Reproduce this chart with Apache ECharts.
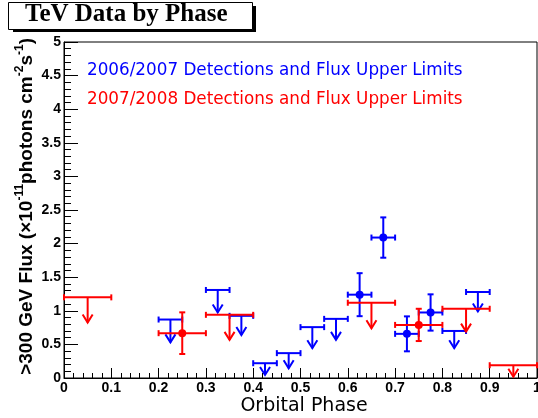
<!DOCTYPE html>
<html><head><meta charset="utf-8">
<script src="https://cdn.jsdelivr.net/npm/echarts@6/dist/echarts.min.js"></script>
<style>html,body{margin:0;padding:0;background:#fff}#c{width:538px;height:418px}</style>
</head><body><div id="c"></div>
<script>
// ---- data ----
const xTickLabels = ['0','0.1','0.2','0.3','0.4','0.5','0.6','0.7','0.8','0.9','1'];
const yTickLabels = ['0','0.5','1','1.5','2','2.5','3','3.5','4','4.5','5'];

// 2006/2007 upper limits (blue)
const blueUlLo  = [0.20, 0.30, 0.35, 0.40, 0.45, 0.50, 0.55, 0.80, 0.85];
const blueUlHi  = [0.25, 0.35, 0.40, 0.45, 0.50, 0.55, 0.60, 0.85, 0.90];
const blueUlVal = [0.87, 1.31, 0.925, 0.22, 0.37, 0.757, 0.88, 0.70, 1.28];
const blueUlArrowX = [0.225, 0.325, 0.375, 0.425, 0.475, 0.525, 0.575, 0.825, 0.875];
const blueUlArrowTip = [0.53, 0.975, 0.64, 0.045, 0.145, 0.443, 0.567, 0.443, 0.99];

// 2007/2008 upper limits (red)
const redUlLo  = [0.0, 0.3, 0.6, 0.8, 0.9];
const redUlHi  = [0.1, 0.4, 0.7, 0.9, 1.0];
const redUlVal = [1.2, 0.94, 1.12, 1.03, 0.19];
const redUlArrowX = [0.05, 0.35, 0.65, 0.85, 0.95];
const redUlArrowTip = [0.825, 0.567, 0.74, 0.69, 0.02];

// 2006/2007 detections (blue)
const blueDetX = [0.625, 0.675, 0.725, 0.775];
const blueDetXErr = [0.025, 0.025, 0.025, 0.025];
const blueDetY = [1.24, 2.09, 0.657, 0.975];
const blueDetYErr = [0.32, 0.30, 0.26, 0.27];

// 2007/2008 detections (red)
const redDetX = [0.25, 0.75];
const redDetXErr = [0.05, 0.05];
const redDetY = [0.667, 0.79];
const redDetYErr = [0.31, 0.24];

const BLUE = '#0000ff', RED = '#ff0000';

function ulData(lo, hi, val, ax, tip) {
  return lo.map((l, i) => [l, hi[i], val[i], ax[i], tip[i]]);
}
function detData(x, xe, y, ye) {
  return x.map((v, i) => [v, xe[i], y[i], ye[i]]);
}

function ulRender(color) {
  return function (params, api) {
    const v = api.value(2), ax = api.value(3);
    const lo = api.coord([api.value(0), v]);
    const hi = api.coord([api.value(1), v]);
    const top = api.coord([ax, v]);
    const tip = api.coord([ax, api.value(4)]);
    const st = { stroke: color, lineWidth: 2, fill: null };
    return { type: 'group', children: [
      { type: 'line', shape: { x1: lo[0], y1: lo[1], x2: hi[0], y2: hi[1] }, style: st },
      { type: 'line', shape: { x1: lo[0], y1: lo[1] - 3, x2: lo[0], y2: lo[1] + 3 }, style: st },
      { type: 'line', shape: { x1: hi[0], y1: hi[1] - 3, x2: hi[0], y2: hi[1] + 3 }, style: st },
      { type: 'line', shape: { x1: top[0], y1: top[1], x2: tip[0], y2: tip[1] }, style: st },
      { type: 'polyline', shape: { points: [[tip[0] - 5, tip[1] - 8], [tip[0], tip[1]], [tip[0] + 5, tip[1] - 8]] }, style: st }
    ]};
  };
}
function detRender(color) {
  return function (params, api) {
    const x = api.value(0), xe = api.value(1), y = api.value(2), ye = api.value(3);
    const c = api.coord([x, y]);
    const l = api.coord([x - xe, y]), r = api.coord([x + xe, y]);
    const t = api.coord([x, y + ye]), b = api.coord([x, y - ye]);
    const st = { stroke: color, lineWidth: 2, fill: null };
    return { type: 'group', children: [
      { type: 'line', shape: { x1: l[0], y1: l[1], x2: r[0], y2: r[1] }, style: st },
      { type: 'line', shape: { x1: l[0], y1: l[1] - 3, x2: l[0], y2: l[1] + 3 }, style: st },
      { type: 'line', shape: { x1: r[0], y1: r[1] - 3, x2: r[0], y2: r[1] + 3 }, style: st },
      { type: 'line', shape: { x1: t[0], y1: t[1], x2: b[0], y2: b[1] }, style: st },
      { type: 'line', shape: { x1: t[0] - 3, y1: t[1], x2: t[0] + 3, y2: t[1] }, style: st },
      { type: 'line', shape: { x1: b[0] - 3, y1: b[1], x2: b[0] + 3, y2: b[1] }, style: st },
      { type: 'circle', shape: { cx: c[0], cy: c[1], r: 4 }, style: { fill: color } }
    ]};
  };
}

const chart = echarts.init(document.getElementById('c'), null, { renderer: 'canvas' });
const tickFont = { color: '#000', fontFamily: 'Liberation Sans, Arial, sans-serif', fontWeight: 'bold', fontSize: 14 };

chart.setOption({
  animation: false,
  backgroundColor: '#fff',
  grid: { left: 64, right: 1, top: 42, bottom: 40, containLabel: false, outerBoundsMode: 'none',
          show: true, borderColor: '#000', borderWidth: 1, backgroundColor: 'transparent' },
  xAxis: {
    type: 'value', min: 0, max: 1, interval: 0.1,
    axisLine: { show: true, lineStyle: { color: '#000', width: 1 } },
    axisTick: { show: true, inside: true, length: 10, lineStyle: { color: '#000' } },
    minorTick: { show: true, splitNumber: 5, length: 5, lineStyle: { color: '#000' } },
    splitLine: { show: false },
    axisLabel: Object.assign({ margin: 3, hideOverlap: false, showMinLabel: true, showMaxLabel: true, formatter: (v) => xTickLabels[Math.round(v * 10)] }, tickFont)
  },
  yAxis: {
    type: 'value', min: 0, max: 5, interval: 0.5,
    axisLine: { show: true, lineStyle: { color: '#000', width: 1 } },
    axisTick: { show: true, inside: true, length: 14, lineStyle: { color: '#000' } },
    minorTick: { show: true, splitNumber: 5, length: 7, lineStyle: { color: '#000' } },
    splitLine: { show: false },
    axisLabel: Object.assign({ margin: 3, showMinLabel: true, showMaxLabel: true, formatter: (v) => yTickLabels[Math.round(v * 2)] }, tickFont)
  },
  series: [
    { type: 'custom', name: 'blueUL', renderItem: ulRender(BLUE), encode: { x: [0, 1], y: 2 },
      data: ulData(blueUlLo, blueUlHi, blueUlVal, blueUlArrowX, blueUlArrowTip), z: 2 },
    { type: 'custom', name: 'blueDet', renderItem: detRender(BLUE), encode: { x: 0, y: 2 },
      data: detData(blueDetX, blueDetXErr, blueDetY, blueDetYErr), z: 2 },
    { type: 'custom', name: 'redUL', renderItem: ulRender(RED), encode: { x: [0, 1], y: 2 },
      data: ulData(redUlLo, redUlHi, redUlVal, redUlArrowX, redUlArrowTip), z: 3 },
    { type: 'custom', name: 'redDet', renderItem: detRender(RED), encode: { x: 0, y: 2 },
      data: detData(redDetX, redDetXErr, redDetY, redDetYErr), z: 3 }
  ],
  graphic: [
    // title box with shadow
    { type: 'rect', left: 13, top: 6, shape: { width: 243, height: 26 }, style: { fill: '#000' }, z: 10 },
    { type: 'rect', left: 8, top: 2, shape: { width: 244, height: 27 }, style: { fill: '#fff', stroke: '#000', lineWidth: 1 }, z: 11 },
    { type: 'text', x: 25, y: 14.5, z: 12,
      style: { text: 'TeV Data by Phase', fill: '#000', font: 'bold 25px "Liberation Serif", "Times New Roman", serif', textAlign: 'left', textVerticalAlign: 'middle' } },
    // legend texts
    { type: 'text', x: 87, y: 71, z: 12,
      style: { text: '2006/2007 Detections and Flux Upper Limits', fill: BLUE, font: '16.8px "DejaVu Sans", sans-serif', textAlign: 'left', textVerticalAlign: 'middle' } },
    { type: 'text', x: 87, y: 100, z: 12,
      style: { text: '2007/2008 Detections and Flux Upper Limits', fill: RED, font: '16.8px "DejaVu Sans", sans-serif', textAlign: 'left', textVerticalAlign: 'middle' } },
    // x axis title
    { type: 'text', x: 304, y: 406, z: 12,
      style: { text: 'Orbital Phase', fill: '#000', font: '19px "DejaVu Sans", sans-serif', textAlign: 'center', textVerticalAlign: 'middle' } },
    // y axis title (rotated)
    { type: 'text', x: 25, y: 38, rotation: Math.PI / 2, z: 12,
      style: {
        text: '{m|>300 GeV Flux (\u00d710}{s|-11}{m|photons cm}{s|-2}{m|s}{s|-1}{m|)}',
        textAlign: 'right', textVerticalAlign: 'middle',
        rich: {
          m: { fontFamily: 'Liberation Sans, Arial, sans-serif', fontWeight: 'bold', fontSize: 19, fill: '#000', lineHeight: 22, verticalAlign: 'bottom' },
          s: { fontFamily: 'Liberation Sans, Arial, sans-serif', fontWeight: 'bold', fontSize: 12, fill: '#000', lineHeight: 22, verticalAlign: 'top' }
        }
      } }
  ]
});
</script>
</body></html>
